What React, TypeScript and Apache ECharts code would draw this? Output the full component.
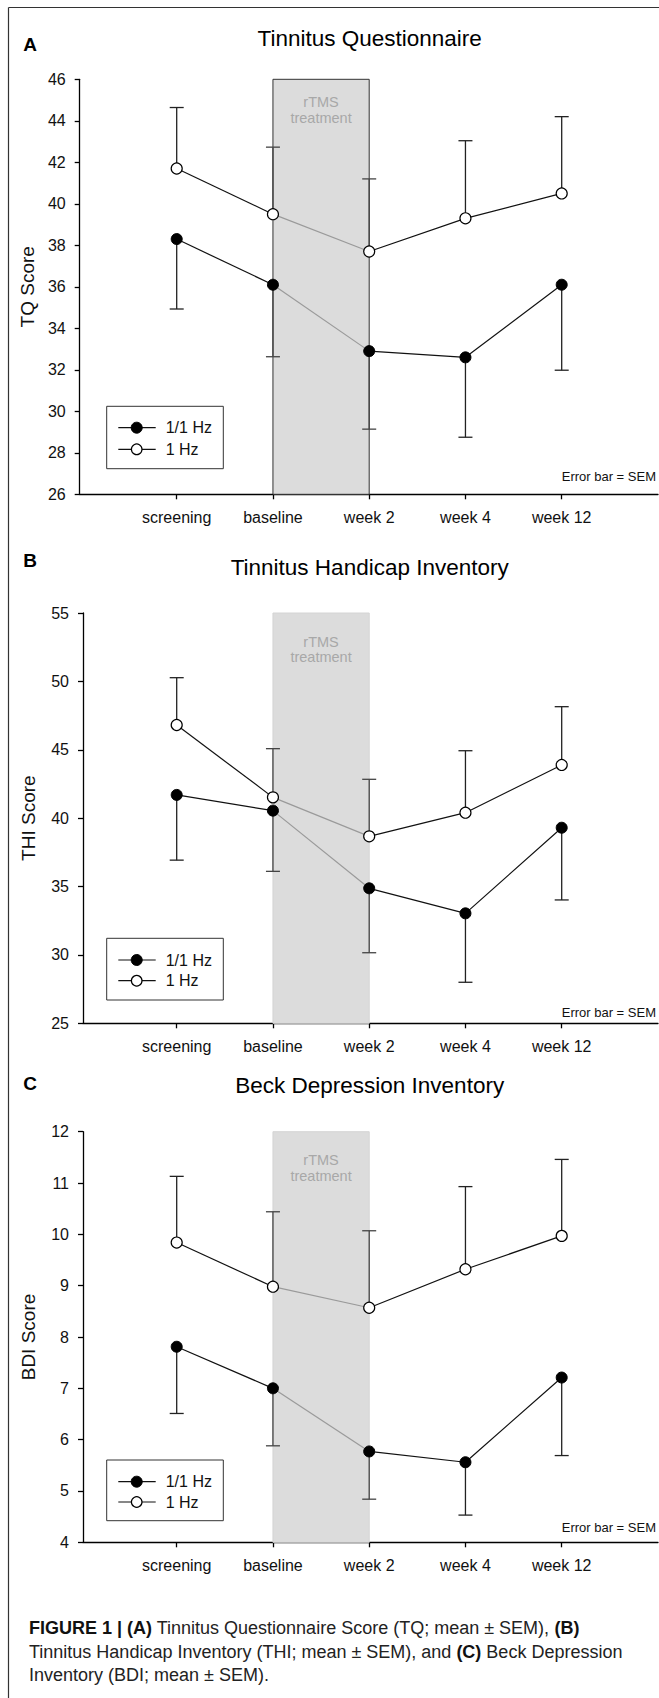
import React, { useEffect, useRef } from "react";
import * as echarts from "echarts";

// ---------- data ----------
const categories = ["screening", "baseline", "week 2", "week 4", "week 12"];
const seriesNames = ["1/1 Hz", "1 Hz"];
const treatmentSpan = [1, 2]; // baseline -> week 2

const tqMean11 = [38.3, 36.1, 32.9, 32.6, 36.1];
const tqSem11 = [3.37, 3.47, 3.76, 3.85, 4.12];
const tqMean1 = [41.7, 39.5, 37.7, 39.3, 40.5];
const tqSem1 = [2.94, 3.23, 3.5, 3.74, 3.7];

const thiMean11 = [41.7, 40.55, 34.87, 33.04, 39.3];
const thiSem11 = [4.77, 4.44, 4.71, 5.04, 5.28];
const thiMean1 = [46.81, 41.52, 38.67, 40.4, 43.89];
const thiSem1 = [3.46, 3.56, 4.17, 4.53, 4.26];

const bdiMean11 = [7.81, 7.0, 5.77, 5.56, 7.21];
const bdiSem11 = [1.3, 1.12, 0.93, 1.03, 1.52];
const bdiMean1 = [9.84, 8.98, 8.57, 9.32, 9.97];
const bdiSem1 = [1.29, 1.46, 1.5, 1.61, 1.49];

const panelLetters = ["A", "B", "C"];
const panelTitles = ["Tinnitus Questionnaire", "Tinnitus Handicap Inventory", "Beck Depression Inventory"];
const yNames = ["TQ Score", "THI Score", "BDI Score"];
const yMins = [26, 25, 4];
const yMaxs = [46, 55, 12];
const ySteps = [2, 5, 1];
const treatmentLabel = "rTMS\ntreatment";
const semNote = "Error bar = SEM";

const captionLines = [
  "{b|FIGURE 1 | (A)} Tinnitus Questionnaire Score (TQ; mean ± SEM), {b|(B)}",
  "Tinnitus Handicap Inventory (THI; mean ± SEM), and {b|(C)} Beck Depression",
  "Inventory (BDI; mean ± SEM).",
];

const panelData = [
  { m11: tqMean11, s11: tqSem11, m1: tqMean1, s1: tqSem1 },
  { m11: thiMean11, s11: thiSem11, m1: thiMean1, s1: thiSem1 },
  { m11: bdiMean11, s11: bdiSem11, m1: bdiMean1, s1: bdiSem1 },
];

// ---------- layout ----------
const W = 659;
const H = 1698;
const X0 = 176.7; // pixel x of first category
const DX = 96.25; // pixel spacing of categories
const XRIGHT = 658;
const FONT = '"Liberation Sans", Arial, Helvetica, sans-serif';

const layouts = [
  { axisX: 79.7, top: 79.3, bottom: 494.3, titleY: 37.7, letterY: 44, labelMid: 30.7, labelLH: 16.6, legTop: 406.3, legBottom: 468.7, leg1: 427.7, leg2: 449.3, semY: 476.7, rectBorder: "#333" },
  { axisX: 83, top: 613, bottom: 1023.3, titleY: 566.7, letterY: 560, labelMid: 36.3, labelLH: 15.3, legTop: 938.3, legBottom: 1000, leg1: 960, leg2: 980.7, semY: 1012, rectBorder: null },
  { axisX: 83, top: 1131.7, bottom: 1542.3, titleY: 1084.3, letterY: 1083.3, labelMid: 36.3, labelLH: 16, legTop: 1460, legBottom: 1520.7, leg1: 1481.7, leg2: 1502, semY: 1527, rectBorder: null },
];

function seg(values: number[], from: number, to: number) {
  return values.slice(from, to + 1).map((v, i) => [from + i, v]);
}

function buildOption() {
  const grid: any[] = [];
  const xAxis: any[] = [];
  const yAxis: any[] = [];
  const series: any[] = [];
  const graphics: any[] = [];

  // frame
  graphics.push({ type: "line", shape: { x1: 8.5, y1: 7.5, x2: W, y2: 7.5 }, style: { stroke: "#333", lineWidth: 1.2 } });
  graphics.push({ type: "line", shape: { x1: 8.5, y1: 7.5, x2: 8.5, y2: H }, style: { stroke: "#333", lineWidth: 1.2 } });

  layouts.forEach((l, p) => {
    const d = panelData[p];
    grid.push({ left: l.axisX, top: l.top, width: XRIGHT - l.axisX, height: l.bottom - l.top });
    xAxis.push({
      type: "value",
      gridIndex: p,
      min: (l.axisX - X0) / DX,
      max: (XRIGHT - X0) / DX,
      splitLine: { show: false },
      axisLine: { show: true, onZero: false, lineStyle: { color: "#000", width: 1.3 } },
      axisTick: { show: true, length: 5, customValues: categories.map((_, i) => i), lineStyle: { color: "#000", width: 1.3 } },
      axisLabel: {
        customValues: categories.map((_, i) => i),
        formatter: (v: number) => categories[Math.round(v)] ?? "",
        fontSize: 16,
        color: "#111",
        margin: 15,
        fontFamily: FONT,
      },
    });
    yAxis.push({
      type: "value",
      gridIndex: p,
      min: yMins[p],
      max: yMaxs[p],
      interval: ySteps[p],
      name: yNames[p],
      nameLocation: "middle",
      nameGap: l.axisX - 38,
      nameTextStyle: { fontSize: 19, color: "#111", fontFamily: FONT },
      splitLine: { show: false },
      axisLine: { show: true, onZero: false, lineStyle: { color: "#000", width: 1.3 } },
      axisTick: { show: true, length: 5, lineStyle: { color: "#000", width: 1.3 } },
      axisLabel: { fontSize: 16, color: "#111", margin: 14, fontFamily: FONT },
    });

    // shaded treatment area
    series.push({
      type: "custom",
      xAxisIndex: p,
      yAxisIndex: p,
      z: 1,
      silent: true,
      encode: { x: [0, 2], y: [1, 3] },
      data: [[treatmentSpan[0], yMins[p], treatmentSpan[1], yMaxs[p]]],
      renderItem: (params: any, api: any) => {
        const a = api.coord([api.value(0), api.value(3)]);
        const b = api.coord([api.value(2), api.value(1)]);
        return {
          type: "group",
          children: [
            {
              type: "rect",
              shape: { x: a[0], y: a[1], width: b[0] - a[0], height: b[1] - a[1] },
              style: { fill: "#dcdcdc", stroke: l.rectBorder || "#d4d4d4", lineWidth: 1 },
            },
            {
              type: "text",
              x: (a[0] + b[0]) / 2,
              y: a[1] + l.labelMid,
              style: {
                text: treatmentLabel,
                fill: "#a8a8a8",
                fontSize: 14.5,
                lineHeight: l.labelLH,
                align: "center",
                verticalAlign: "middle",
                fontFamily: FONT,
              },
            },
          ],
        };
      },
    });

    // error bars
    const groups = [
      { m: d.m11, s: d.s11, dir: -1 },
      { m: d.m1, s: d.s1, dir: 1 },
    ];
    groups.forEach((g) => {
      series.push({
        type: "custom",
        xAxisIndex: p,
        yAxisIndex: p,
        z: 2,
        silent: true,
        encode: { x: 0, y: 1 },
        data: g.m.map((v, i) => [i, v, g.s[i], g.dir]),
        renderItem: (params: any, api: any) => {
          const x = api.value(0);
          const m = api.value(1);
          const s = api.value(2);
          const dir = api.value(3);
          const p0 = api.coord([x, m]);
          const p1 = api.coord([x, m + dir * s]);
          const inTreat = x >= treatmentSpan[0] && x <= treatmentSpan[1];
          const col = inTreat ? "#444" : "#222";
          return {
            type: "group",
            children: [
              { type: "line", shape: { x1: p0[0], y1: p0[1], x2: p1[0], y2: p1[1] }, style: { stroke: col, lineWidth: 1.3 } },
              { type: "line", shape: { x1: p1[0] - 7, y1: p1[1], x2: p1[0] + 7, y2: p1[1] }, style: { stroke: col, lineWidth: 1.3 } },
            ],
          };
        },
      });
    });

    // connecting lines: black outside treatment, gray during treatment
    [d.m11, d.m1].forEach((vals, gi) => {
      const pieces = [
        { data: seg(vals, 0, treatmentSpan[0]), color: "#111" },
        { data: seg(vals, treatmentSpan[0], treatmentSpan[1]), color: "#9a9a9a" },
        { data: seg(vals, treatmentSpan[1], vals.length - 1), color: "#111" },
      ];
      pieces.forEach((pc) => {
        series.push({
          type: "line",
          name: seriesNames[gi],
          xAxisIndex: p,
          yAxisIndex: p,
          z: 3,
          silent: true,
          showSymbol: false,
          symbol: "none",
          data: pc.data,
          lineStyle: { color: pc.color, width: 1.2 },
        });
      });
    });

    // markers
    series.push({
      type: "scatter",
      name: seriesNames[0],
      xAxisIndex: p,
      yAxisIndex: p,
      z: 4,
      symbol: "circle",
      symbolSize: 11,
      data: d.m11.map((v, i) => [i, v]),
      itemStyle: { color: "#000", borderColor: "#000", borderWidth: 1, opacity: 1 },
    });
    series.push({
      type: "scatter",
      name: seriesNames[1],
      xAxisIndex: p,
      yAxisIndex: p,
      z: 5,
      symbol: "circle",
      symbolSize: 11,
      data: d.m1.map((v, i) => [i, v]),
      itemStyle: { color: "#fff", borderColor: "#000", borderWidth: 1.2, opacity: 1 },
    });

    // panel letter & title
    graphics.push({
      type: "text",
      x: 30,
      y: l.letterY,
      style: { text: panelLetters[p], fontSize: 19, fontWeight: "bold", fill: "#000", align: "center", verticalAlign: "middle", fontFamily: FONT },
    });
    graphics.push({
      type: "text",
      x: 369.7,
      y: l.titleY + 1,
      style: { text: panelTitles[p], fontSize: 22.5, fill: "#000", align: "center", verticalAlign: "middle", fontFamily: FONT },
    });

    // legend
    graphics.push({
      type: "rect",
      shape: { x: 106.7, y: l.legTop, width: 116.6, height: l.legBottom - l.legTop },
      style: { fill: "#fff", stroke: "#333", lineWidth: 1 },
      z: 10,
    });
    [l.leg1, l.leg2].forEach((ly, gi) => {
      graphics.push({ type: "line", shape: { x1: 118.3, y1: ly, x2: 155.7, y2: ly }, style: { stroke: "#111", lineWidth: 1.2 }, z: 11 });
      graphics.push({
        type: "circle",
        shape: { cx: 136.7, cy: ly, r: gi === 0 ? 5.5 : 5.3 },
        style: gi === 0 ? { fill: "#000", stroke: "#000", lineWidth: 1 } : { fill: "#fff", stroke: "#000", lineWidth: 1.2 },
        z: 12,
      });
      graphics.push({
        type: "text",
        x: 165.7,
        y: ly,
        style: { text: seriesNames[gi], fontSize: 16, fill: "#111", align: "left", verticalAlign: "middle", fontFamily: FONT },
        z: 12,
      });
    });

    // SEM note
    graphics.push({
      type: "text",
      x: 656,
      y: l.semY,
      style: { text: semNote, fontSize: 13, fill: "#111", align: "right", verticalAlign: "middle", fontFamily: FONT },
    });
  });

  // caption
  const capYs = [1628.3, 1652.3, 1675];
  captionLines.forEach((t, i) => {
    graphics.push({
      type: "text",
      x: 29,
      y: capYs[i],
      style: {
        text: t,
        fontSize: 18,
        fill: "#222",
        align: "left",
        verticalAlign: "middle",
        fontFamily: FONT,
        rich: { b: { fontSize: 18, fontWeight: "bold", fill: "#111", fontFamily: FONT } },
      },
    });
  });

  return {
    animation: false,
    backgroundColor: "#fff",
    grid,
    xAxis,
    yAxis,
    series,
    graphic: { elements: graphics },
  };
}

export default function App() {
  const ref = useRef<HTMLDivElement>(null);
  useEffect(() => {
    if (!ref.current) return;
    const chart = echarts.init(ref.current, null, { renderer: "svg" });
    chart.setOption(buildOption() as any);
    return () => chart.dispose();
  }, []);
  return <div ref={ref} style={{ position: "absolute", left: 0, top: 0, width: W, height: H }} />;
}
